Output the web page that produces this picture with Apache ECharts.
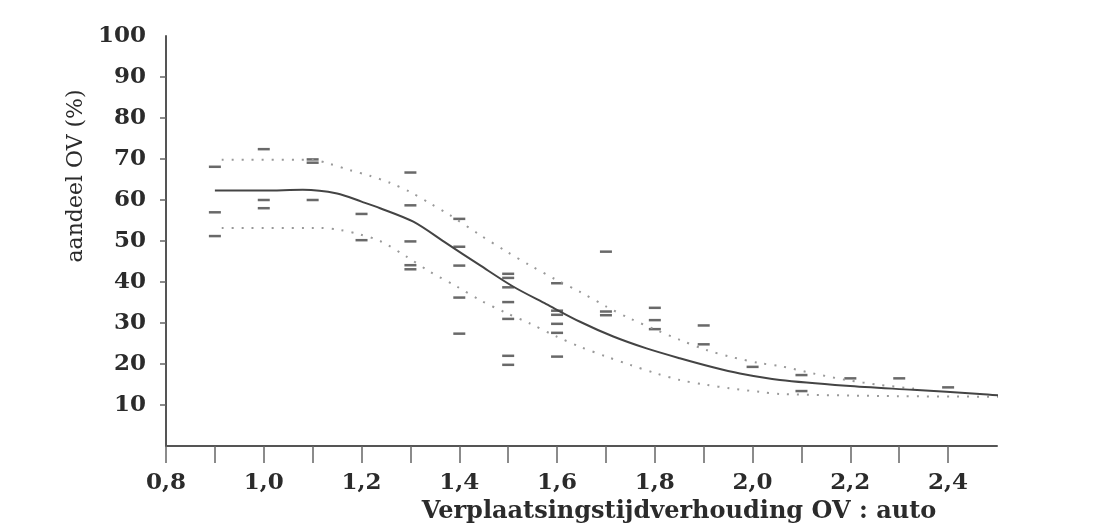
<!DOCTYPE html>
<html>
<head>
<meta charset="utf-8">
<script src="https://cdn.jsdelivr.net/npm/echarts@6/dist/echarts.min.js"></script>
<style>
  html, body { margin: 0; padding: 0; background: #fff; }
  #main { width: 1117px; height: 532px; }
</style>
</head>
<body>
<div id="main"></div>
<script>
// waarnemingen (streepjes)
var obsRatio = [0.9, 0.9, 0.9, 1.0, 1.0, 1.0, 1.1, 1.1, 1.1, 1.2, 1.2,
    1.3, 1.3, 1.3, 1.3, 1.3, 1.4, 1.4, 1.4, 1.4, 1.4,
    1.5, 1.5, 1.5, 1.5, 1.5, 1.5, 1.5, 1.6, 1.6, 1.6, 1.6, 1.6, 1.6,
    1.7, 1.7, 1.7, 1.8, 1.8, 1.8, 1.9, 1.9, 2.0, 2.1, 2.1, 2.2, 2.3, 2.4];
var obsShare = [68.1, 57.0, 51.2, 72.4, 60.0, 58.0, 69.9, 69.1, 60.0, 56.6, 50.2,
    66.7, 58.7, 49.9, 44.1, 43.1, 55.4, 48.6, 44.0, 36.2, 27.4,
    42.0, 41.0, 38.7, 35.1, 31.0, 22.0, 19.8, 39.7, 33.0, 32.0, 29.8, 27.6, 21.8,
    47.4, 32.8, 31.9, 33.7, 30.7, 28.5, 29.4, 24.8, 19.3, 17.3, 13.4, 16.5, 16.5, 14.3];

// geschatte curve
var fitRatio = [0.9, 1.0, 1.08, 1.15, 1.2, 1.238, 1.306, 1.374, 1.442, 1.51, 1.578,
    1.647, 1.715, 1.783, 1.851, 1.919, 1.974, 2.056, 2.192, 2.328, 2.465, 2.536];
var fitShare = [62.3, 62.3, 62.5, 61.6, 59.6, 58.0, 54.7, 49.4, 44.1, 38.9, 34.6,
    30.3, 26.7, 23.8, 21.4, 19.2, 17.7, 16.1, 14.7, 13.7, 12.7, 12.0];

// betrouwbaarheidsband boven
var upRatio = [0.914, 1.1, 1.135, 1.176, 1.217, 1.258, 1.299, 1.34, 1.381, 1.442, 1.497,
    1.544, 1.599, 1.647, 1.701, 1.749, 1.803, 1.851, 1.906, 1.953, 2.015, 2.056, 2.124, 2.192, 2.26, 2.33];
var upShare = [69.8, 69.8, 68.8, 67.3, 65.9, 64.2, 62.0, 59.2, 56.3, 51.5, 47.4,
    44.1, 40.5, 37.6, 34.0, 31.1, 28.3, 25.9, 23.4, 21.8, 20.2, 19.5, 17.7, 16.1, 14.9, 14.0];

// betrouwbaarheidsband onder
var lowRatio = [0.914, 1.115, 1.156, 1.197, 1.238, 1.292, 1.34, 1.395, 1.442, 1.497, 1.544,
    1.599, 1.647, 1.701, 1.749, 1.803, 1.851, 1.906, 1.953, 2.015, 2.056, 2.26, 2.532];
var lowShare = [53.2, 53.2, 52.7, 51.6, 50.0, 46.2, 42.5, 38.9, 35.6, 32.4, 29.9,
    26.7, 24.2, 21.8, 19.8, 17.7, 16.1, 14.9, 14.1, 13.2, 12.7, 12.2, 12.0];

// as-indeling
var xTicks = [0.8, 0.9, 1.0, 1.1, 1.2, 1.3, 1.4, 1.5, 1.6, 1.7, 1.8, 1.9, 2.0, 2.1, 2.2, 2.3, 2.4];
var xLabels = [0.8, 1.0, 1.2, 1.4, 1.6, 1.8, 2.0, 2.2, 2.4];
var yTicks = [10, 20, 30, 40, 50, 60, 70, 80, 90];
var yLabels = [10, 20, 30, 40, 50, 60, 70, 80, 90, 100];

function pairs(xs, ys) {
    return xs.map(function (x, i) { return [x, ys[i]]; });
}

var font = 'DejaVu Serif';
var ink = '#2b2b2b';

var myChart = echarts.init(document.getElementById('main'));
myChart.setOption({
    backgroundColor: '#fff',
    animation: false,
    grid: { left: 166, right: 120, top: 36, bottom: 86 },
    xAxis: {
        type: 'value',
        min: 0.8,
        max: 2.5,
        interval: 0.1,
        splitLine: { show: false },
        axisLine: { lineStyle: { color: '#555', width: 2 } },
        axisTick: { length: 17, customValues: xTicks, lineStyle: { color: '#666', width: 1.5 } },
        axisLabel: {
            margin: 26,
            customValues: xLabels,
            color: ink,
            fontFamily: font,
            fontSize: 23,
            fontWeight: 'bold',
            formatter: function (v) {
                return v.toFixed(1).replace('.', ',');
            }
        }
    },
    yAxis: {
        type: 'value',
        min: 0,
        max: 100,
        interval: 10,
        splitLine: { show: false },
        axisLine: { show: true, lineStyle: { color: '#555', width: 2 } },
        axisTick: { length: 6, customValues: yTicks, lineStyle: { color: '#666', width: 1.5 } },
        axisLabel: {
            margin: 20,
            customValues: yLabels,
            color: ink,
            fontFamily: font,
            fontSize: 23,
            fontWeight: 'bold'
        }
    },
    graphic: [
        {
            type: 'text',
            x: 76,
            y: 176,
            rotation: Math.PI / 2,
            style: {
                text: 'aandeel OV (%)',
                fill: ink,
                font: '22px "DejaVu Serif"',
                align: 'center',
                verticalAlign: 'middle'
            }
        },
        {
            type: 'text',
            x: 679,
            y: 512,
            style: {
                text: 'Verplaatsingstijdverhouding OV : auto',
                fill: ink,
                font: 'bold 24px "DejaVu Serif"',
                align: 'center',
                verticalAlign: 'middle'
            }
        }
    ],
    series: [
        {
            type: 'line',
            data: pairs(upRatio, upShare),
            smooth: 0.3,
            symbol: 'none',
            clip: false,
            lineStyle: { color: '#999', width: 2, type: [2, 8] }
        },
        {
            type: 'line',
            data: pairs(lowRatio, lowShare),
            smooth: 0.3,
            symbol: 'none',
            clip: false,
            lineStyle: { color: '#999', width: 2, type: [2, 8] }
        },
        {
            type: 'line',
            data: pairs(fitRatio, fitShare),
            smooth: 0.3,
            symbol: 'none',
            clip: false,
            lineStyle: { color: '#444', width: 2 }
        },
        {
            type: 'scatter',
            data: pairs(obsRatio, obsShare),
            symbol: 'rect',
            symbolSize: [12, 2.5],
            itemStyle: { color: '#444' }
        }
    ]
});
</script>
</body>
</html>
